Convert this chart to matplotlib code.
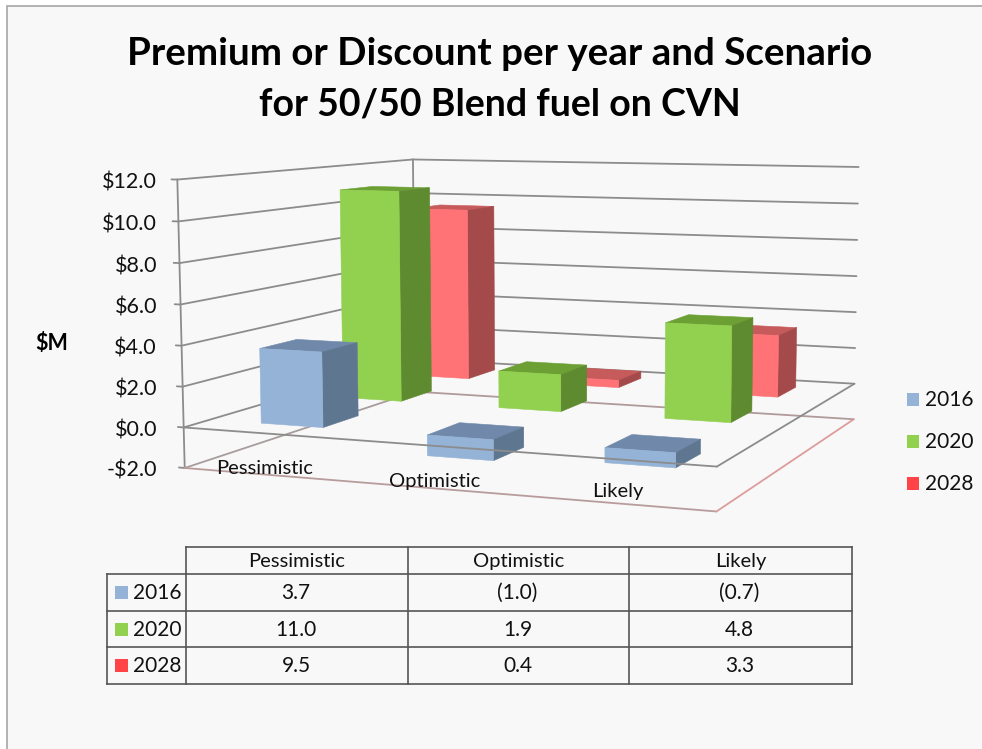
import numpy as np
import matplotlib
matplotlib.use("Agg")
import matplotlib.pyplot as plt
from matplotlib.patches import Polygon, Rectangle

plt.rcParams['font.family'] = ['Lato', 'DejaVu Sans']

categories = ["Pessimistic", "Optimistic", "Likely"]
years = ["2016", "2020", "2028"]
v2016 = [3.7, -1.0, -0.7]
v2020 = [11.0, 1.9, 4.8]
v2028 = [9.5, 0.4, 3.3]
series = [v2016, v2020, v2028]
ticks = [-2, 0, 2, 4, 6, 8, 10, 12]
table_text = [["3.7", "(1.0)", "(0.7)"], ["11.0", "1.9", "4.8"], ["9.5", "0.4", "3.3"]]

FRONT = ["#95B3D7", "#92D050", "#FF7276"]
TOP = ["#7089AB", "#6CA034", "#C75B5C"]
SIDE = ["#5F7690", "#5E8A30", "#A54A4B"]
KEY = ["#95B3D7", "#92D050", "#FF4347"]
BG = "#F8F8F8"

W, H = 982, 749
fig = plt.figure(figsize=(W / 100, H / 100), dpi=100, facecolor="white")
ax = fig.add_axes([0, 0, 1, 1])
ax.set_xlim(0, W); ax.set_ylim(H, 0); ax.axis("off")
ax.add_patch(Rectangle((7, 6), W, H, fc=BG, ec="#A6A6A6", lw=1.2, zorder=0))

# camera fitted to the chart box: (x along categories 0-1, y depth 0-1, z value) -> pixel
cal = [((0, 0, -2), (184, 469)), ((1, 0, -2), (716, 511)), ((1, 1, -2), (854, 419)),
       ((0, 1, -2), (416, 392)), ((0, 0, 12), (178, 179)), ((0, 1, 12), (412, 160)),
       ((1, 1, 12), (859, 167)), ((0, 0, 0), (184, 427)), ((1, 0, 0), (717, 467)),
       ((1, 1, 0), (854, 384)), ((0, 1, 0), (415, 358))]
A = []
for (X, Y, Z), (u, v) in cal:
    A.append([X, Y, Z, 1, 0, 0, 0, 0, -u * X, -u * Y, -u * Z, -u])
    A.append([0, 0, 0, 0, X, Y, Z, 1, -v * X, -v * Y, -v * Z, -v])
P = np.linalg.svd(np.array(A, float))[2][-1].reshape(3, 4)


def pr(x, y, z):
    p = P @ np.array([x, y, z, 1.0])
    return p[:2] / p[2]


def seg(a, b, color="#8C8C8C", lw=1.3, zorder=1):
    pa, pb = pr(*a), pr(*b)
    ax.plot([pa[0], pb[0]], [pa[1], pb[1]], color=color, lw=lw, zorder=zorder, solid_capstyle="round")


# walls
for t in ticks:
    col = "#8C8C8C"
    seg((-0.012, 0, t), (0, 0, t), col)
    if t > -2:
        seg((0, 0, t), (0, 1, t), col)
        seg((0, 1, t), (1, 1, t), col)
seg((0, 0, -2), (0, 0, 12))
seg((0, 1, 0), (0, 1, 12))
# floor at the axis minimum
seg((0, 0, -2), (0, 1, -2), "#A89C9C")
seg((0, 1, -2), (1, 1, -2), "#B09A9A")
seg((0, 0, -2), (1, 0, -2), "#B89C9C")
seg((1, 0, -2), (1, 1, -2), "#DD9C9C")

GX, GY = 0.31, 0.285
SX = 0.01
z = 3
for j in [2, 1, 0]:
    y0, y1 = (j + GY) / 3, (j + 1 - GY) / 3
    for i in range(3):
        x0, x1 = (i + GX + SX) / 3, (i + 1 - GX + SX) / 3
        val = series[j][i]
        lo, hi = min(0, val), max(0, val)
        faces = [([(x0, y0, hi), (x1, y0, hi), (x1, y1, hi), (x0, y1, hi)], TOP[j]),
                 ([(x1, y0, lo), (x1, y1, lo), (x1, y1, hi), (x1, y0, hi)], SIDE[j]),
                 ([(x0, y0, lo), (x1, y0, lo), (x1, y0, hi), (x0, y0, hi)], FRONT[j])]
        for pts, c in faces:
            ax.add_patch(Polygon([pr(*q) for q in pts], closed=True, fc=c, ec=c, lw=0.4, zorder=z))
            z += 0.01

# zero plane outline passes over the bars that hang below it
seg((0, 0, 0), (1, 0, 0), "#8C8C8C", zorder=20)
seg((1, 0, 0), (1, 1, 0), "#8C8C8C", zorder=20)

# text
ax.text(500, 54, "Premium or Discount per year and Scenario", ha="center", va="center",
        fontsize=27.7, fontweight="bold", color="black")
ax.text(500, 104, "for 50/50 Blend fuel on CVN", ha="center", va="center",
        fontsize=27, fontweight="bold", color="black")
for t in ticks:
    p = pr(0, 0, t)
    lab = f"-${abs(t):.1f}" if t < 0 else f"${t:.1f}"
    ax.text(157, p[1] + 3, lab, ha="right", va="center", fontsize=15.5, color="#111111")
ax.text(52, 344, "$M", ha="center", va="center", fontsize=15.5, fontweight="bold", color="black")
for c, (cx, cy) in zip(categories, [(265, 468), (435, 481), (618, 492)]):
    ax.text(cx, cy, c, ha="center", va="center", fontsize=14.5, color="#111111")

# legend
for k, y in enumerate(years):
    yc = 399 + 42 * k
    ax.add_patch(Rectangle((907, yc - 6.5), 12.5, 13, fc=KEY[k], ec="none", zorder=5))
    ax.text(925, yc + 1, y, ha="left", va="center", fontsize=15, color="#111111")

# data table
xs = [107, 186, 408, 629, 852]
ys = [547, 573.5, 611, 647, 684]
LC = "#555555"
ax.plot([xs[1], xs[4]], [ys[0], ys[0]], color=LC, lw=1.2, zorder=6)
for yy in ys[1:]:
    ax.plot([xs[0] if yy > ys[1] else xs[1], xs[4]], [yy, yy], color=LC, lw=1.2, zorder=6)
ax.plot([xs[0], xs[1]], [574, 574], color=LC, lw=1.2, zorder=6)
ax.plot([xs[0], xs[0]], [ys[1], ys[4]], color=LC, lw=1.2, zorder=6)
for xx in xs[1:]:
    ax.plot([xx, xx], [ys[0], ys[4]], color=LC, lw=1.2, zorder=6)
for c, name in enumerate(categories):
    ax.text((xs[c + 1] + xs[c + 2]) / 2, (ys[0] + ys[1]) / 2 + 1, name, ha="center", va="center",
            fontsize=14.5, color="#111111")
for r, y in enumerate(years):
    yc = (ys[r + 1] + ys[r + 2]) / 2
    ax.add_patch(Rectangle((115, yc - 6.5), 13, 13, fc=KEY[r], ec="none", zorder=5))
    ax.text(133, yc + 1, y, ha="left", va="center", fontsize=15, color="#111111")
    for c in range(3):
        ax.text((xs[c + 1] + xs[c + 2]) / 2 - 1, yc + 1, table_text[r][c], ha="center", va="center",
                fontsize=15, color="#111111")

fig.savefig("out.png", dpi=100, facecolor="white")
